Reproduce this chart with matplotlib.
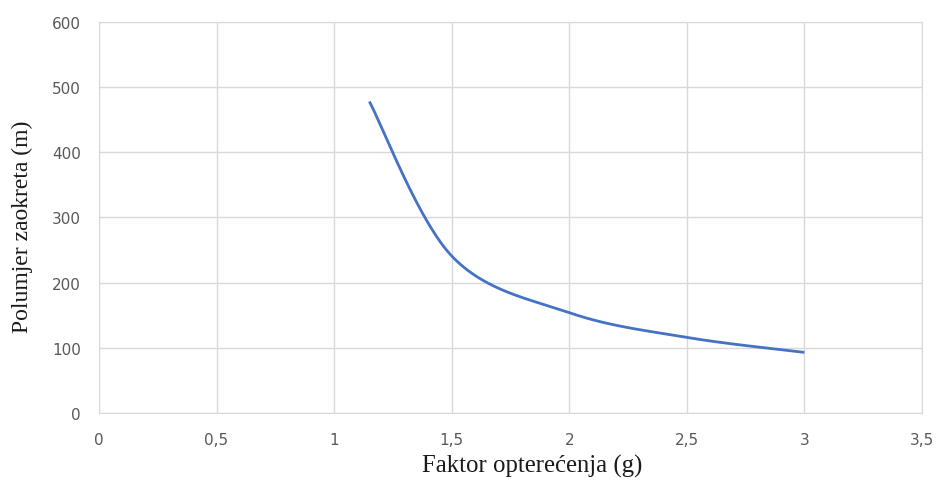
import numpy as np
import matplotlib
matplotlib.use("Agg")
import matplotlib.pyplot as plt
from matplotlib.ticker import FuncFormatter

# data
load_factor = [1.15, 1.5, 2.0, 2.5, 3.0]
turn_radius = [478, 241, 154, 116, 93]

x_ticks = [0, 0.5, 1, 1.5, 2, 2.5, 3, 3.5]
y_ticks = [0, 100, 200, 300, 400, 500, 600]


def smooth(xs, ys, n=60):
    # excel style smoothed line (bezier with catmull-rom control points)
    xs = np.asarray(xs, float)
    ys = np.asarray(ys, float)
    px = np.concatenate([[xs[0]], xs, [xs[-1]]])
    py = np.concatenate([[ys[0]], ys, [ys[-1]]])
    outx, outy = [], []
    t = np.linspace(0, 1, n)
    for i in range(1, len(px) - 2):
        p0 = np.array([px[i], py[i]])
        p3 = np.array([px[i + 1], py[i + 1]])
        c1 = p0 + (p3 - np.array([px[i - 1], py[i - 1]])) / 6
        c2 = p3 - (np.array([px[i + 2], py[i + 2]]) - p0) / 6
        b = ((1 - t) ** 3)[:, None] * p0 + (3 * (1 - t) ** 2 * t)[:, None] * c1 \
            + (3 * (1 - t) * t ** 2)[:, None] * c2 + (t ** 3)[:, None] * p3
        outx.extend(b[:, 0])
        outy.extend(b[:, 1])
    return outx, outy


def main():
    fig = plt.figure(figsize=(9.38, 4.81), dpi=100)
    ax = fig.add_axes([0.1055, 0.1393, 0.8774, 0.8129])

    sx, sy = smooth(load_factor, turn_radius)
    ax.plot(sx, sy, color='#4472C4', lw=2.0, solid_capstyle='butt')

    ax.set_xlim(0, 3.5)
    ax.set_ylim(0, 600)
    ax.set_xticks(x_ticks)
    ax.set_yticks(y_ticks)
    ax.xaxis.set_major_formatter(FuncFormatter(lambda v, p: ('%g' % v).replace('.', ',')))
    ax.grid(True, color='#d9d9d9', lw=1.0)
    ax.set_axisbelow(True)
    for s in ax.spines.values():
        s.set_color('#d9d9d9')
    ax.tick_params(length=0, colors='#595959', labelsize=11, pad=13)
    ax.tick_params(axis='x', pad=14)

    ax.set_xlabel('Faktor opterećenja (g)', family='Liberation Serif', fontsize=17.8,
                  color='#1a1a1a')
    ax.set_ylabel('Polumjer zaokreta (m)', family='Liberation Serif', fontsize=17,
                  color='#1a1a1a')
    ax.xaxis.set_label_coords(0.526, -0.105)
    ax.yaxis.set_label_coords(-0.08, 0.478)

    fig.savefig('out.png', dpi=100)


if __name__ == "__main__":
    main()
